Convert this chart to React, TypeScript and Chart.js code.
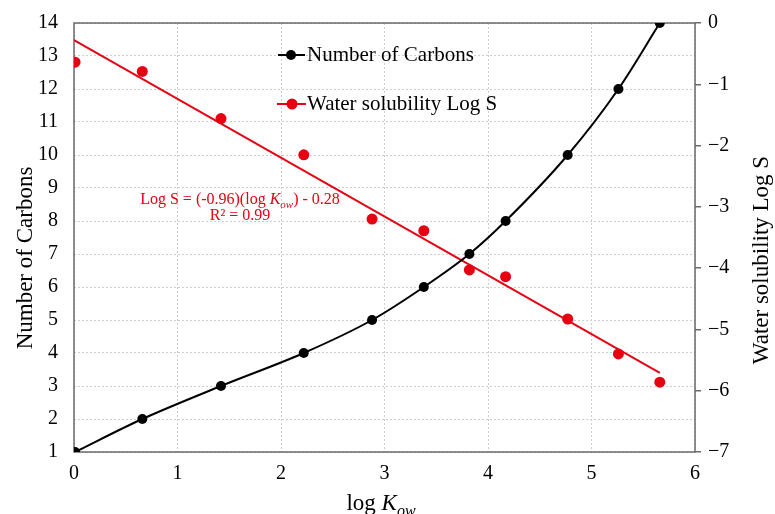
import React, { useEffect, useRef } from "react";
import { Chart, registerables } from "chart.js";

Chart.register(...registerables);

const logKow = [0.01, 0.66, 1.42, 2.22, 2.88, 3.38, 3.82, 4.17, 4.77, 5.26, 5.66];
const carbons = [1, 2, 3, 4, 5, 6, 7, 8, 10, 12, 14];
const logS = [-0.64, -0.79, -1.56, -2.15, -3.2, -3.39, -4.03, -4.14, -4.83, -5.4, -5.86];
const fitX = [0, 5.66];
const fitY = [-0.28, -5.71];

const SERIF = '"Liberation Serif", "DejaVu Serif", serif';
const RED = "#e60012";
const AXIS = "#6a6a6a";
const GRID = "#cfcfcf";

type Part = { t: string; italic?: boolean; sub?: boolean };

function drawParts(ctx: CanvasRenderingContext2D, parts: Part[], size: number, cx: number, y: number, color: string) {
  const fontFor = (p: Part) => `${p.italic ? "italic " : ""}${p.sub ? Math.round(size * 0.7) : size}px ${SERIF}`;
  let total = 0;
  const widths = parts.map((p) => {
    ctx.font = fontFor(p);
    const w = ctx.measureText(p.t).width;
    total += w;
    return w;
  });
  let x = cx - total / 2;
  ctx.fillStyle = color;
  ctx.textAlign = "left";
  ctx.textBaseline = "alphabetic";
  parts.forEach((p, i) => {
    ctx.font = fontFor(p);
    ctx.fillText(p.t, x, y + (p.sub ? size * 0.25 : 0));
    x += widths[i];
  });
}

const decorPlugin = {
  id: "decor",
  beforeDatasetsDraw(chart: any) {
    const { ctx, chartArea: a } = chart;
    ctx.save();
    ctx.strokeStyle = AXIS;
    ctx.lineWidth = 1.5;
    ctx.setLineDash([]);
    ctx.strokeRect(a.left, a.top, a.right - a.left, a.bottom - a.top);
    ctx.restore();
  },
  afterDraw(chart: any) {
    const { ctx } = chart;
    ctx.save();
    ctx.fillStyle = "#000";
    ctx.font = `23px ${SERIF}`;
    ctx.textAlign = "center";
    ctx.textBaseline = "middle";
    ctx.save();
    ctx.translate(26, 258);
    ctx.rotate(-Math.PI / 2);
    ctx.fillText("Number of Carbons", 0, 0);
    ctx.restore();
    ctx.save();
    ctx.translate(762, 260);
    ctx.rotate(-Math.PI / 2);
    ctx.fillText("Water solubility Log S", 0, 0);
    ctx.restore();
    drawParts(ctx, [{ t: "log " }, { t: "K", italic: true }, { t: "ow", italic: true, sub: true }], 23, 381, 510, "#000");

    // legend
    ctx.lineWidth = 2;
    ctx.strokeStyle = "#000";
    ctx.beginPath();
    ctx.moveTo(278, 55);
    ctx.lineTo(305, 55);
    ctx.stroke();
    ctx.fillStyle = "#000";
    ctx.beginPath();
    ctx.arc(291, 55, 5, 0, Math.PI * 2);
    ctx.fill();
    ctx.strokeStyle = RED;
    ctx.beginPath();
    ctx.moveTo(277, 104);
    ctx.lineTo(306, 104);
    ctx.stroke();
    ctx.fillStyle = RED;
    ctx.beginPath();
    ctx.arc(292, 104, 5.5, 0, Math.PI * 2);
    ctx.fill();
    ctx.fillStyle = "#000";
    ctx.font = `21px ${SERIF}`;
    ctx.textAlign = "left";
    ctx.textBaseline = "middle";
    ctx.fillText("Number of Carbons", 307, 55);
    ctx.fillText("Water solubility Log S", 307, 104);

    // equation
    drawParts(
      ctx,
      [{ t: "Log S = (-0.96)(log " }, { t: "K", italic: true }, { t: "ow", italic: true, sub: true }, { t: ") - 0.28" }],
      16,
      240,
      204,
      RED
    );
    drawParts(ctx, [{ t: "R² = 0.99" }], 16, 240, 220, RED);
    ctx.restore();
  },
};

export default function App() {
  const ref = useRef<HTMLCanvasElement>(null);
  useEffect(() => {
    if (!ref.current) return;
    const chart = new Chart(ref.current, {
      type: "scatter",
      data: {
        datasets: [
          {
            label: "Number of Carbons",
            data: logKow.map((x, i) => ({ x, y: carbons[i] })),
            yAxisID: "y",
            showLine: true,
            borderColor: "#000",
            backgroundColor: "#000",
            borderWidth: 2,
            pointRadius: 5,
            pointBorderWidth: 0,
            cubicInterpolationMode: "monotone",
          },
          {
            label: "Water solubility Log S",
            data: logKow.map((x, i) => ({ x, y: logS[i] })),
            yAxisID: "y1",
            showLine: false,
            borderColor: RED,
            backgroundColor: RED,
            pointRadius: 5.5,
            pointBorderWidth: 0,
          },
          {
            label: "fit",
            data: fitX.map((x, i) => ({ x, y: fitY[i] })),
            yAxisID: "y1",
            showLine: true,
            borderColor: RED,
            borderWidth: 2,
            pointRadius: 0,
          },
        ],
      } as any,
      options: {
        animation: false,
        responsive: false,
        layout: { padding: { top: 23, left: 0, right: 0, bottom: 0 } },
        plugins: { legend: { display: false }, tooltip: { enabled: false } },
        scales: {
          x: {
            type: "linear",
            min: 0,
            max: 6,
            ticks: { stepSize: 1, color: "#000", font: { family: SERIF, size: 20 }, padding: 10 },
            grid: { color: GRID, lineWidth: 1, drawTicks: false },
            border: { display: false, dash: [2, 2] },
            afterFit: (s: any) => {
              s.height = 62;
              s.paddingLeft = 0;
              s.paddingRight = 0;
            },
          },
          y: {
            type: "linear",
            position: "left",
            min: 1,
            max: 14,
            ticks: { stepSize: 1, color: "#000", font: { family: SERIF, size: 20 }, padding: 16 },
            grid: { color: GRID, lineWidth: 1, drawTicks: false },
            border: { display: false, dash: [2, 2] },
            afterFit: (s: any) => {
              s.width = 74;
              s.paddingTop = 0;
              s.paddingBottom = 0;
            },
          },
          y1: {
            type: "linear",
            position: "right",
            min: -7,
            max: 0,
            ticks: {
              stepSize: 1,
              color: "#000",
              font: { family: SERIF, size: 20 },
              padding: 7,
              callback: (v: any) => (Number(v) < 0 ? "−" + Math.abs(Number(v)) : String(v)),
            },
            grid: { drawOnChartArea: false, drawTicks: true, tickLength: 6, color: AXIS, lineWidth: 1.5 },
            border: { display: false },
            afterFit: (s: any) => {
              s.width = 80;
              s.paddingTop = 0;
              s.paddingBottom = 0;
            },
          },
        },
      } as any,
      plugins: [decorPlugin],
    });
    return () => chart.destroy();
  }, []);
  return (
    <div style={{ position: "absolute", left: 0, top: 0, width: 775, height: 514, background: "#fff" }}>
      <canvas ref={ref} width={775} height={514} style={{ display: "block" }} />
    </div>
  );
}
